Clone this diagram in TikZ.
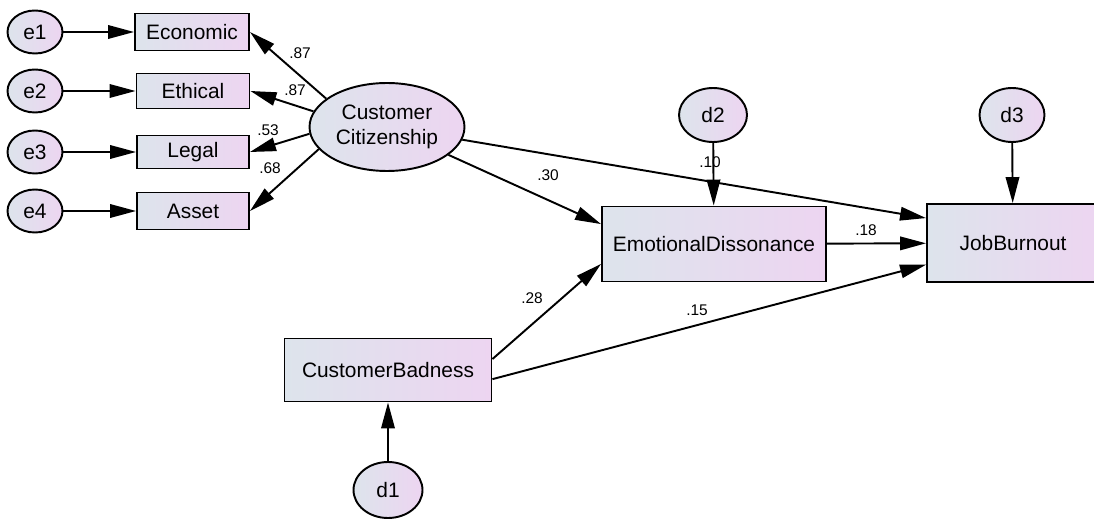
\documentclass[tikz,border=0pt]{standalone}
\usepackage{fontspec}
\setmainfont{Liberation Sans}
\usetikzlibrary{arrows.meta,shapes.geometric}
\definecolor{fillleft}{RGB}{221,228,236}
\definecolor{fillright}{RGB}{237,213,241}
\tikzset{
    shade box/.style={draw, line width=1.1pt, left color=fillleft, right color=fillright, inner sep=0pt},
    observed/.style={shade box, font=\fontsize{11.9}{14}\selectfont},
    latent/.style={shade box, ellipse, align=center, font=\fontsize{11.9}{14}\selectfont},
    effect/.style={line width=1.1pt, -{Triangle[length=0.52cm,width=0.27cm]}},
    coef/.style={font=\fontsize{8.8}{10}\selectfont, inner sep=1pt},
}

\begin{document}
\begin{tikzpicture}[x=0.02cm, y=-0.02cm]
    \useasboundingbox (0,0) rectangle (1094,520);
    \foreach \i/\y in {1/32, 2/91, 3/152, 4/211}
        \node[latent, minimum width=1.1cm, minimum height=0.86cm] (e\i) at (35,\y) {e\i};
    \node[observed, minimum width=2.28cm, minimum height=0.74cm] (eco) at (192,32) {Economic};
    \node[observed, minimum width=2.26cm, minimum height=0.70cm] (eth) at (193,91) {Ethical};
    \node[observed, minimum width=2.24cm, minimum height=0.66cm] (leg) at (193,152) {Legal};
    \node[observed, minimum width=2.24cm, minimum height=0.74cm] (ast) at (193,211) {Asset};
    \node[latent, minimum width=3.1cm, minimum height=1.76cm] (cc) at (387,127) {Customer\\Citizenship};
    \node[observed, minimum width=4.48cm, minimum height=1.5cm] (ed) at (714,244) {EmotionalDissonance};
    \node[observed, minimum width=3.44cm, minimum height=1.56cm] (jb) at (1013,243) {JobBurnout};
    \node[observed, minimum width=4.14cm, minimum height=1.26cm] (cb) at (388,370) {CustomerBadness};
    \node[latent, minimum width=1.36cm, minimum height=1.08cm] (d2) at (713,115) {d2};
    \node[latent, minimum width=1.3cm, minimum height=1.08cm] (d3) at (1012,115) {d3};
    \node[latent, minimum width=1.38cm, minimum height=1.12cm] (d1) at (388,490) {d1};

    \foreach \i/\b in {1/eco, 2/eth, 3/leg, 4/ast}
        \draw[effect] (e\i) -- (\b);
    \foreach \a/\b in {155/eco, 168/eth, 185/leg, 198/ast}
        \draw[effect] (cc.\a) -- (\b.east);
    \draw[effect] (cc) -- (ed.170);
    \draw[effect] (cc) -- (jb.164);
    \draw[effect] (ed) -- (jb);
    \draw[effect] (cb.6) -- (ed.190);
    \draw[effect] (cb.-5) -- (jb.194);
    \draw[effect] (d2) -- (ed);
    \draw[effect] (d3) -- (jb);
    \draw[effect] (d1) -- (cb);

    \node[coef] (w1) at (300,53) {.87};
    \node[coef] (w2) at (295,90) {.87};
    \node[coef] (w3) at (268,130) {.53};
    \node[coef] (w4) at (270,168) {.68};
    \node[coef] (b1) at (548,175) {.30};
    \node[coef] (b2) at (710,162) {.10};
    \node[coef] (b3) at (866,230) {.18};
    \node[coef] (b4) at (532,298) {.28};
    \node[coef] (b5) at (697,310) {.15};
\end{tikzpicture}
\end{document}
